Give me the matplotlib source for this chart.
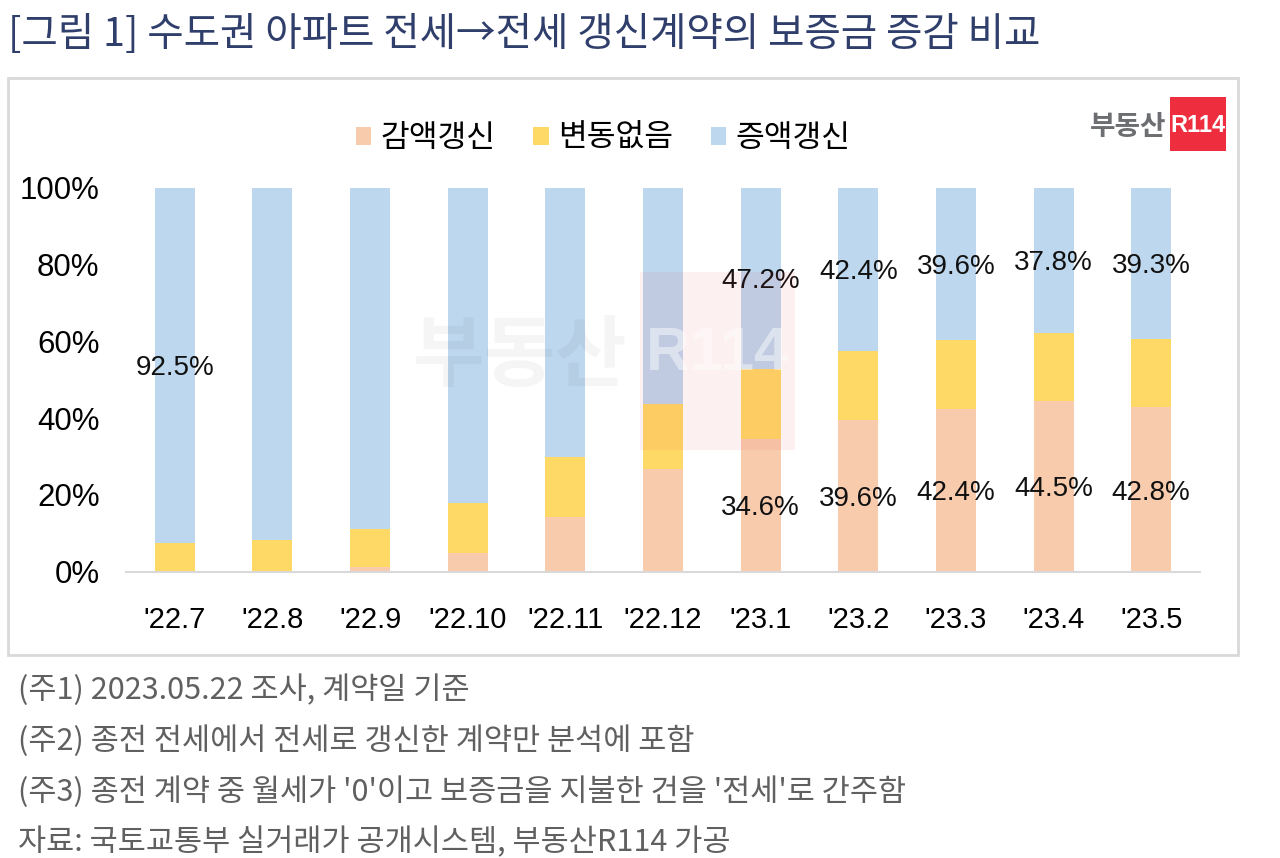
import numpy as np
import matplotlib.pyplot as plt
from matplotlib.patches import Rectangle

plt.rcParams['font.family'] = ['Noto Sans CJK KR', 'DejaVu Sans']

months = ["'22.7", "'22.8", "'22.9", "'22.10", "'22.11", "'22.12",
          "'23.1", "'23.2", "'23.3", "'23.4", "'23.5"]
decrease = [0.0, 0.0, 1.1, 4.9, 14.3, 26.7, 34.6, 39.6, 42.4, 44.5, 42.8]
nochange = [7.5, 8.2, 9.9, 12.9, 15.7, 16.9, 18.2, 18.0, 18.0, 17.7, 17.9]
increase = [92.5, 91.8, 89.0, 82.2, 70.0, 56.4, 47.2, 42.4, 39.6, 37.8, 39.3]

# which labels are printed on the chart
inc_labels = {0: "92.5%", 6: "47.2%", 7: "42.4%", 8: "39.6%", 9: "37.8%", 10: "39.3%"}
dec_labels = {6: "34.6%", 7: "39.6%", 8: "42.4%", 9: "44.5%", 10: "42.8%"}

series_names = ["감액갱신", "변동없음", "증액갱신"]
colors = ["#F8CBAD", "#FFD966", "#BDD7EE"]

fig = plt.figure(figsize=(12.8, 8.58), dpi=100)

# outer frame of the chart
fig.patches.append(Rectangle((8 / 1280, 1 - 655 / 858), 1230 / 1280, 577 / 858,
                             transform=fig.transFigure, fill=False,
                             edgecolor="#D9D9D9", linewidth=2))

ax = fig.add_axes([126 / 1280, 1 - 571.7 / 858, 1074 / 1280, 384 / 858])
x = np.arange(len(months))
w = 0.41
dec = np.array(decrease) / 100
noc = np.array(nochange) / 100
inc = np.array(increase) / 100
ax.bar(x, dec, w, color=colors[0], label=series_names[0])
ax.bar(x, noc, w, bottom=dec, color=colors[1], label=series_names[1])
ax.bar(x, inc, w, bottom=dec + noc, color=colors[2], label=series_names[2])

num_font = ['Liberation Sans', 'DejaVu Sans']
for i, t in inc_labels.items():
    ax.text(x[i], dec[i] + noc[i] + inc[i] / 2 - 0.008, t, ha='center', va='center',
            fontsize=20, family=num_font, color="#111111")
for i, t in dec_labels.items():
    ax.text(x[i], dec[i] / 2 - 0.008, t, ha='center', va='center',
            fontsize=20, family=num_font, color="#111111")

ax.set_xlim(-0.5, 10.5)
ax.set_ylim(0, 1)
ax.set_yticks([0, 0.2, 0.4, 0.6, 0.8, 1.0])
ax.set_yticklabels(["0%", "20%", "40%", "60%", "80%", "100%"], family=num_font, fontsize=22.5)
ax.set_xticks(x)
ax.set_xticklabels(months, family=num_font, fontsize=21)
ax.tick_params(length=0)
ax.tick_params(axis='y', pad=19)
ax.tick_params(axis='x', pad=25)
for s in ['top', 'right', 'left']:
    ax.spines[s].set_visible(False)
ax.spines['bottom'].set_color("#D9D9D9")
ax.spines['bottom'].set_linewidth(1.5)

leg = fig.legend(loc='center', bbox_to_anchor=(603 / 1280, 1 - 138 / 858), ncol=3,
                 frameon=False, fontsize=22.5, handlelength=0.5, handleheight=0.5,
                 handletextpad=0.3, columnspacing=1.2)

# faint watermark
fig.text(520 / 1280, 1 - 357 / 858, "부동산", fontsize=56, fontweight='bold',
         color="#000000", alpha=0.04, ha='center', va='center')
fig.patches.append(Rectangle((640 / 1280, 1 - 450 / 858), 155 / 1280, 178 / 858,
                             transform=fig.transFigure, facecolor="#E8313F",
                             alpha=0.07, edgecolor='none'))
fig.text(717 / 1280, 1 - 355 / 858, "R114", fontsize=44, fontweight='bold',
         color="white", alpha=0.45, ha='center', va='center', family=num_font)

# logo
fig.text(1128 / 1280, 1 - 127 / 858, "부동산", fontsize=20, fontweight='bold',
         color="#6D6E71", ha='center', va='center')
fig.patches.append(Rectangle((1170 / 1280, 1 - 151 / 858), 56 / 1280, 54 / 858,
                             transform=fig.transFigure, facecolor="#EE2E3E",
                             edgecolor='none'))
fig.text(1198 / 1280, 1 - 125 / 858, "R114", fontsize=17, fontweight='bold',
         color="white", ha='center', va='center', family=num_font)

# title
fig.text(8 / 1280, 1 - 35 / 858, "[그림 1] 수도권 아파트 전세→전세 갱신계약의 보증금 증감 비교",
         fontsize=28.5, color="#2F3E6B", ha='left', va='center')

notes = ["(주1) 2023.05.22 조사, 계약일 기준",
         "(주2) 종전 전세에서 전세로 갱신한 계약만 분석에 포함",
         "(주3) 종전 계약 중 월세가 '0'이고 보증금을 지불한 건을 '전세'로 간주함",
         "자료: 국토교통부 실거래가 공개시스템, 부동산R114 가공"]
for k, n in enumerate(notes):
    fig.text(18 / 1280, 1 - (690 + 51 * k) / 858, n, fontsize=22,
             color="#606060", ha='left', va='center')

fig.savefig("out.png", dpi=100, facecolor="white")
